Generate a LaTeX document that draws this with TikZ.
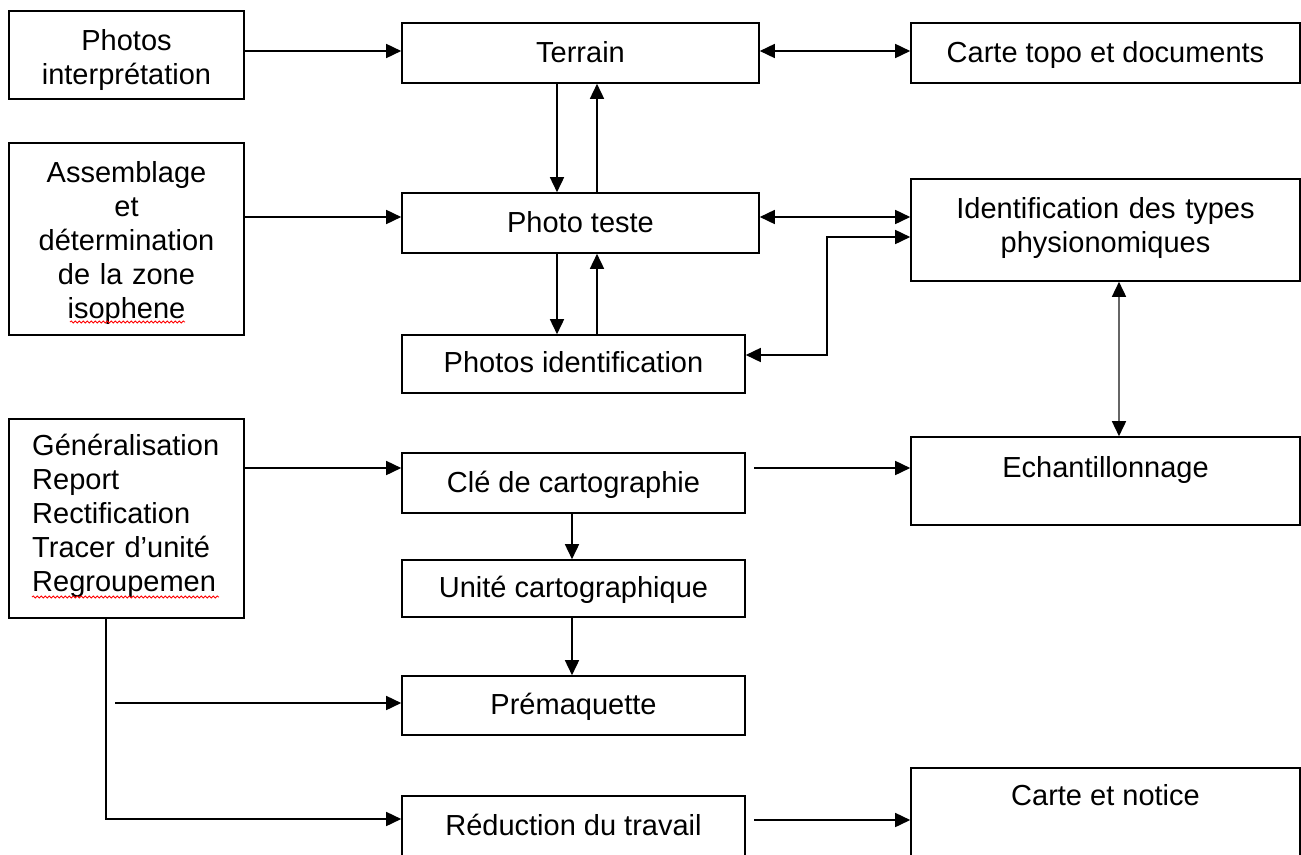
\documentclass[tikz,border=0pt]{standalone}
\usepackage{fontspec}
\setmainfont{Liberation Sans}
\usetikzlibrary{arrows.meta,fit,decorations.pathmorphing}
\begin{document}
\begin{tikzpicture}[x=1pt,y=-1pt,
  box/.style={draw, line width=1.6pt, inner sep=0pt},
  txt/.style={inner sep=0pt, anchor=base, font=\fontsize{29}{34}\selectfont},
  arr/.style={line width=1.6pt, -{Triangle[length=15pt,width=14pt]}},
  darr/.style={line width=1.6pt, {Triangle[length=15pt,width=14pt]}-{Triangle[length=15pt,width=14pt]}},
  squig/.style={red, line width=0.8pt, decorate, decoration={snake, amplitude=1.1pt, segment length=4pt}}
]
\useasboundingbox (0,0) rectangle (1301,854);
\fill[white] (0,0) rectangle (1301,854);

% boxes
\node[box, fit={(9,11)(244,99)}] (pi) {};
\node[box, fit={(402,23)(759,83)}] (terrain) {};
\node[box, fit={(911,23)(1300,83)}] (carte) {};
\node[box, fit={(9,143)(244,335)}] (asm) {};
\node[box, fit={(402,193)(759,253)}] (pt) {};
\node[box, fit={(911,179)(1300,281)}] (ident) {};
\node[box, fit={(402,335)(745,393)}] (phid) {};
\node[box, fit={(9,419)(244,618)}] (gen) {};
\node[box, fit={(402,453)(745,513)}] (cle) {};
\node[box, fit={(911,437)(1300,525)}] (ech) {};
\node[box, fit={(402,560)(745,617)}] (unite) {};
\node[box, fit={(402,676)(745,735)}] (prem) {};
\node[box, fit={(402,796)(745,880)}] (red) {};
\node[box, fit={(911,768)(1300,880)}] (cn) {};

% texts
\node[txt, align=center, text width=230pt] (piT) at (126.5,50) {Photos\\interprétation};
\node[txt] (terrainT) at (580.5,62) {Terrain};
\node[txt] (carteT) at (1105.5,62) {Carte topo et documents};
\node[txt, align=center, text width=230pt] (asmT) at (126.5,182) {Assemblage\\et\\détermination\\de la zone\\isophene};
\node[txt] (ptT) at (580.5,232) {Photo teste};
\node[txt, align=center, text width=380pt] (identT) at (1105.5,218) {Identification des types\\physionomiques};
\node[txt] (phidT) at (573.5,372) {Photos identification};
\node[txt, align=left, text width=210pt, anchor=base west] (genT) at (32,455) {Généralisation\\Report\\Rectification\\Tracer d’unité\\Regroupemen};
\node[txt] (cleT) at (573.5,492) {Clé de cartographie};
\node[txt] (echT) at (1105.5,477) {Echantillonnage};
\node[txt] (uniteT) at (573.5,597) {Unité cartographique};
\node[txt] (premT) at (573.5,714) {Prémaquette};
\node[txt] (redT) at (573.5,835) {Réduction du travail};
\node[txt] (cnT) at (1105.5,805) {Carte et notice};

% spelling squiggles
\draw[squig] (70,322) -- (185,322);
\draw[squig] (32,597) -- (219,597);

% connectors
\draw[arr] (pi.east |- 0,51) -- (terrain.west |- 0,51);
\draw[darr] (terrain.east |- 0,51) -- (carte.west |- 0,51);
\draw[arr] (terrain.south -| 557,0) -- (pt.north -| 557,0);
\draw[arr] (pt.north -| 597,0) -- (terrain.south -| 597,0);
\draw[arr] (asm.east |- 0,217) -- (pt.west |- 0,217);
\draw[darr] (pt.east |- 0,217) -- (ident.west |- 0,217);
\draw[arr] (pt.south -| 557,0) -- (phid.north -| 557,0);
\draw[arr] (phid.north -| 597,0) -- (pt.south -| 597,0);
\draw[darr] (ident.west |- 0,237) -| (827,355) -- (phid.east |- 0,355);
\draw[line width=1.6pt, black!60, {Triangle[length=15pt,width=14pt,color=black]}-{Triangle[length=15pt,width=14pt,color=black]}] (ident.south -| 1119,0) -- (ech.north -| 1119,0);
\draw[arr] (gen.east |- 0,468) -- (cle.west |- 0,468);
\coordinate (c1) at (754,468);
\draw[arr] (c1) -- (ech.west |- c1);
\draw[arr] (cle.south -| 572,0) -- (unite.north -| 572,0);
\draw[arr] (unite.south -| 572,0) -- (prem.north -| 572,0);
\coordinate (c2) at (115,703);
\draw[arr] (c2) -- (prem.west |- c2);
\draw[arr] (gen.south -| 106,0) |- (red.west |- 0,819);
\coordinate (c3) at (754,820);
\draw[arr] (c3) -- (cn.west |- c3);
\end{tikzpicture}
\end{document}
